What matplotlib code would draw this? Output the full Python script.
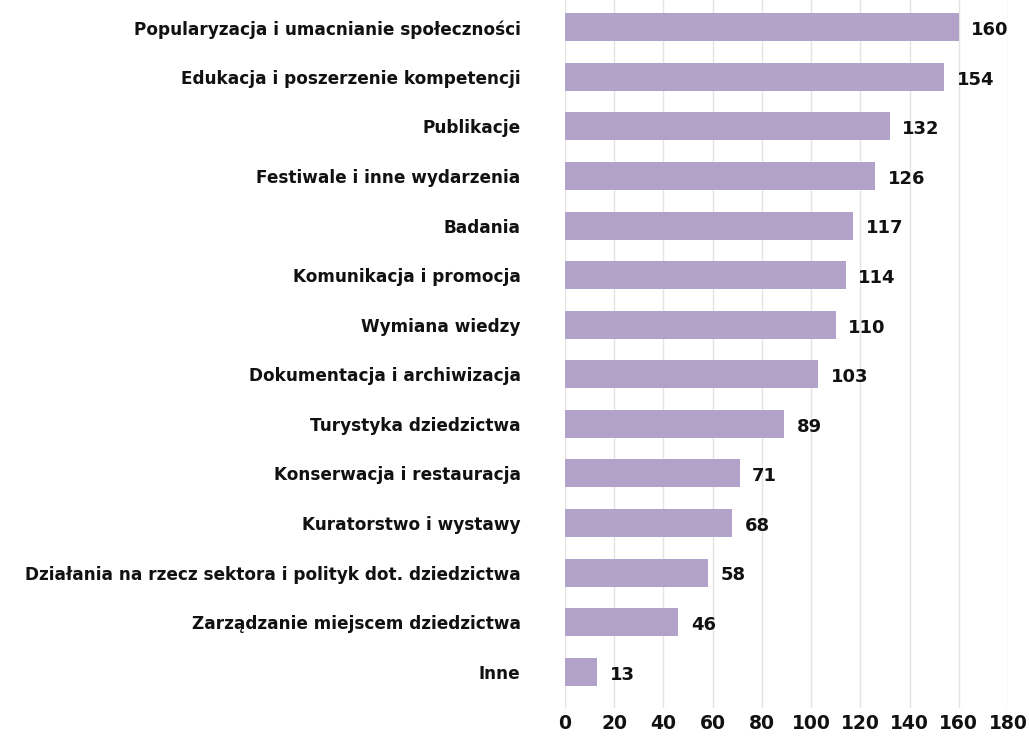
import matplotlib.pyplot as plt

categories = [
    "Popularyzacja i umacnianie społeczności",
    "Edukacja i poszerzenie kompetencji",
    "Publikacje",
    "Festiwale i inne wydarzenia",
    "Badania",
    "Komunikacja i promocja",
    "Wymiana wiedzy",
    "Dokumentacja i archiwizacja",
    "Turystyka dziedzictwa",
    "Konserwacja i restauracja",
    "Kuratorstwo i wystawy",
    "Działania na rzecz sektora i polityk dot. dziedzictwa",
    "Zarządzanie miejscem dziedzictwa",
    "Inne",
]
values = [160, 154, 132, 126, 117, 114, 110, 103, 89, 71, 68, 58, 46, 13]
xticks = [0, 20, 40, 60, 80, 100, 120, 140, 160, 180]

plt.rcParams['font.family'] = ['DejaVu Sans']

fig = plt.figure(figsize=(10.29, 7.36), dpi=100)
ax = fig.add_axes([565 / 1029, 28 / 736, 443 / 1029, 708 / 736])

pos = list(range(len(categories)))
ax.barh(pos, values, height=0.565, color='#b2a2c9', zorder=2)

for p, v in zip(pos, values):
    ax.annotate(str(v), (v, p), xytext=(9, -2), textcoords='offset points',
                ha='left', va='center', fontsize=13, fontweight='bold', color='#111111')

ax.set_xlim(0, 180)
ax.set_ylim(13.73, -0.55)
ax.set_xticks(xticks)
ax.set_yticks(pos)
ax.set_yticklabels(categories, fontsize=12.2, fontweight='semibold', color='#111111')
ax.tick_params(axis='y', length=0, pad=32)
ax.tick_params(axis='x', length=0, pad=4, labelsize=13.5, labelcolor='#111111')
for t in ax.get_xticklabels():
    t.set_fontweight('bold')

ax.grid(axis='x', color='#e4e4e4', linewidth=1, zorder=0)
ax.grid(axis='y', visible=False)
for s in ax.spines.values():
    s.set_visible(False)

fig.savefig('out.png', dpi=100)
